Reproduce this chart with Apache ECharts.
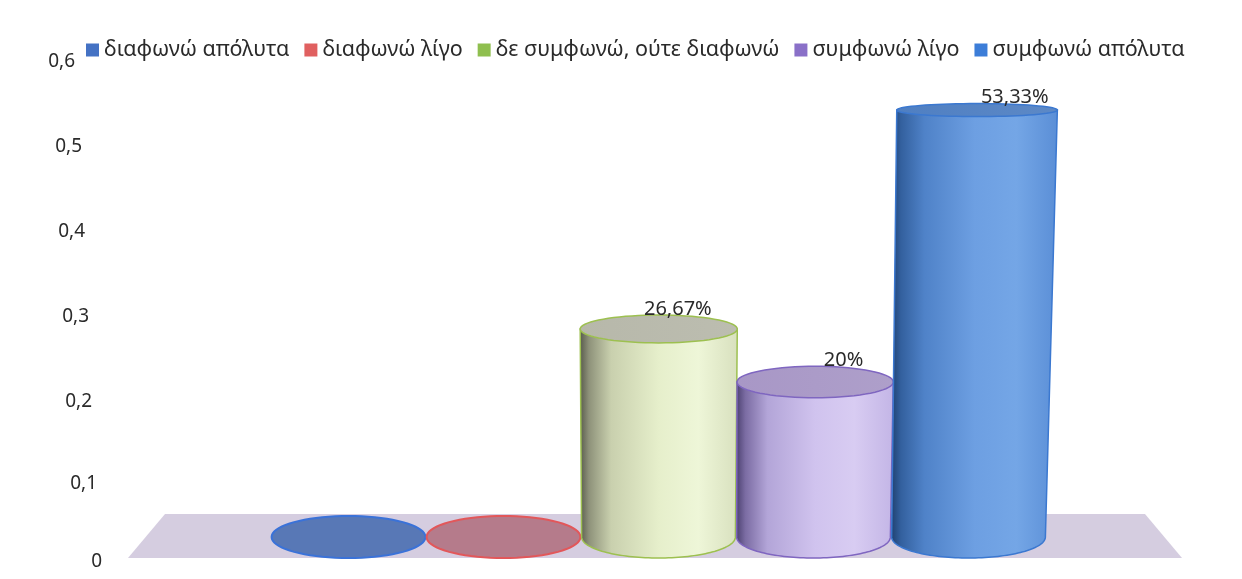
<!DOCTYPE html>
<html>
<head>
<meta charset="utf-8">
<script src="https://cdn.jsdelivr.net/npm/echarts@6/dist/echarts.min.js"></script>
<style>
  html, body { margin: 0; padding: 0; background: #ffffff; }
  #chart { width: 1242px; height: 579px; }
</style>
</head>
<body>
<div id="chart"></div>
<script>
// Survey answers and their shares
const categories = ['διαφωνώ απόλυτα', 'διαφωνώ λίγο', 'δε συμφωνώ, ούτε διαφωνώ', 'συμφωνώ λίγο', 'συμφωνώ απόλυτα'];
const shares = [0, 0, 0.2667, 0.20, 0.5333];
const valueLabels = ['', '', '26,67%', '20%', '53,33%'];
const axisTicks = [0, 0.1, 0.2, 0.3, 0.4, 0.5, 0.6];

const FONT = '"Noto Sans", "DejaVu Sans", sans-serif';

// Cylinder look for each answer
const palette = [
  { legend: '#4472c4', flat: '#5878b6', stroke: '#3a72d8', top: '#4f7fc2',
    body: ['#1f3f6e', '#33609e', '#4f82c8', '#6d9fe2', '#74a6e6', '#5a8ed6'] },
  { legend: '#e06060', flat: '#b57b8b', stroke: '#e2575a', top: '#b57b8b',
    body: ['#6e2f2f', '#9e4a4a', '#c86a6a', '#e29090', '#e69a9a', '#d68080'] },
  { legend: '#8fbf4f', flat: '#c9d0ae', stroke: '#9dc050', top: '#b7b8aa',
    body: ['#55574a', '#8e927a', '#c9d0ae', '#e6efcb', '#eef6d8', '#d8e0be'] },
  { legend: '#8a70c8', flat: '#b3a5d8', stroke: '#7f66c0', top: '#a897c6',
    body: ['#4a3f6e', '#7b6ca3', '#b3a5d8', '#d0c3ee', '#d8ccf2', '#c3b5e6'] },
  { legend: '#3c7dd8', flat: '#5a8ed6', stroke: '#3b78d0', top: '#4f7fc2',
    body: ['#1f3f6e', '#33609e', '#4f82c8', '#6d9fe2', '#74a6e6', '#5a8ed6'] }
];

// mild 3D projection of the cylinders
const PERSPECTIVE_RISE = 1.34e-4;  // taller bars stretch a little
const PERSPECTIVE_SKEW = 6.1e-5;   // tops lean away from the view centre
const VIEW_CENTRE_X = 640;

function ellipsePoints(cx, cy, rx, ry, from, to) {
  const pts = [];
  const n = 72;
  for (let k = 0; k <= n; k++) {
    const a = from + (to - from) * k / n;
    pts.push([cx + rx * Math.cos(a), cy + ry * Math.sin(a)]);
  }
  return pts;
}

function bodyGradient(stops) {
  const at = [0, 0.06, 0.2, 0.5, 0.75, 1];
  return new echarts.graphic.LinearGradient(0, 0, 1, 0,
    stops.map((c, k) => ({ offset: at[k], color: c })));
}

function renderCylinder(params, api) {
  const idx = api.value(0);
  const val = api.value(1);
  const p = palette[idx];
  const base = api.coord([idx, 0]);
  const flatTop = api.coord([idx, val]);
  const band = api.size([1, 0])[0];
  const cx = base[0];
  const by = base[1];
  const rx0 = band * 0.496;
  const r = by - flatTop[1];
  const rise = r * (1 + PERSPECTIVE_RISE * r);
  // flatter ellipses higher up (viewed slightly from above)
  const ryAt = y => 21 - 0.034 * (by - y);
  const ry0 = ryAt(by);
  const children = [];

  if (rise < 1) {
    children.push({
      type: 'polygon',
      shape: { points: ellipsePoints(cx, by, rx0, ry0, 0, Math.PI * 2) },
      style: { fill: p.flat, stroke: p.stroke, lineWidth: 2 }
    });
    return { type: 'group', children };
  }

  const ty = by - rise;
  const tcx = cx + rise * (cx - VIEW_CENTRE_X) * PERSPECTIVE_SKEW;
  const rxT = rx0 + rise * 0.008;
  const ryT = ryAt(ty);

  // side wall: front half of the bottom ellipse plus a tapered body
  const side = ellipsePoints(cx, by, rx0, ry0, 0, Math.PI)
    .concat([[tcx - rxT, ty], [tcx + rxT, ty]]);
  children.push({
    type: 'polygon',
    shape: { points: side },
    style: { fill: bodyGradient(p.body), stroke: p.stroke, lineWidth: 1.5 }
  });
  // lid
  children.push({
    type: 'polygon',
    shape: { points: ellipsePoints(tcx, ty, rxT, ryT, 0, Math.PI * 2) },
    style: {
      fill: new echarts.graphic.LinearGradient(0, 0, 1, 0, [
        { offset: 0, color: p.top }, { offset: 1, color: echarts.color.lift(p.top, 0.08) }
      ]),
      stroke: p.stroke, lineWidth: 1.5
    }
  });
  // value label
  const txt = valueLabels[idx];
  if (txt) {
    children.push({
      type: 'text',
      style: {
        text: txt,
        x: tcx + 18 + 0.06 * (cx - VIEW_CENTRE_X),
        y: ty - ryT - 6,
        align: 'center', verticalAlign: 'middle',
        font: '20px ' + FONT, fill: '#2a2a2a'
      }
    });
  }
  return { type: 'group', children };
}

const tickMin = axisTicks[0];
const tickMax = axisTicks[axisTicks.length - 1];
const tickStep = axisTicks[1] - axisTicks[0];

// per-label shift: labels drift right and bunch up further down the wall
const labelRich = {};
const shiftRight = [0, 5, 10, 13, 17, 20, 27];
const liftUp = [20, 6, 0, 0, 0, 0, 0];
for (let k = 0; k < axisTicks.length; k++) {
  labelRich['t' + k] = {
    fontSize: 19, fontFamily: FONT, color: '#2a2a2a',
    padding: [0, shiftRight[k], liftUp[k], 0]
  };
}

const series = categories.map((name, i) => ({
  name: name,
  type: 'custom',
  xAxisIndex: 1,
  yAxisIndex: 1,
  itemStyle: { color: palette[i].legend },
  renderItem: renderCylinder,
  encode: { x: 0, y: 1 },
  data: [[i, shares[i]]],
  z: 3
}));

const chart = echarts.init(document.getElementById('chart'), null, { renderer: 'canvas' });
chart.setOption({
  backgroundColor: '#ffffff',
  animation: false,
  legend: {
    top: 34, left: 81,
    icon: 'rect', itemWidth: 13, itemHeight: 13, itemGap: 15,
    textStyle: { fontSize: 21.5, fontFamily: FONT, color: '#2a2a2a' },
    data: categories
  },
  graphic: [{
    // floor of the plot
    type: 'polygon', z: 1, silent: true,
    shape: { points: [[165, 514], [1145, 514], [1182, 558], [128, 558]] },
    style: { fill: '#d5cde0' }
  }],
  grid: [
    { left: 104, top: 62, width: 1000, height: 510 },
    { left: 271, top: 81.4, width: 775, height: 455.6 }
  ],
  xAxis: [
    { type: 'category', gridIndex: 0, data: categories, show: false },
    { type: 'category', gridIndex: 1, data: categories, show: false }
  ],
  yAxis: [
    {
      type: 'value', gridIndex: 0, min: tickMin, max: tickMax, interval: tickStep,
      axisLine: { show: false }, axisTick: { show: false }, splitLine: { show: false },
      axisLabel: {
        margin: 2,
        formatter: v => {
          const k = Math.round((v - tickMin) / tickStep);
          const s = v === 0 ? '0' : v.toFixed(1).replace('.', ',');
          return '{t' + k + '|' + s + '}';
        },
        rich: labelRich
      }
    },
    { type: 'value', gridIndex: 1, min: tickMin, max: tickMax, show: false }
  ],
  series: series
});
</script>
</body>
</html>
